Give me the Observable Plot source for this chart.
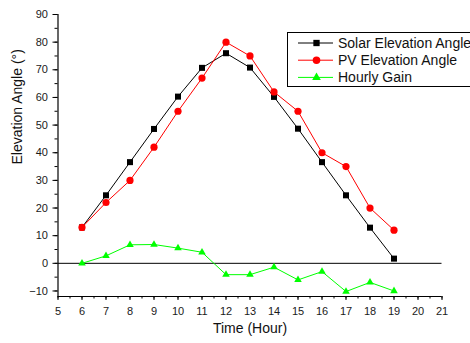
<!DOCTYPE html>
<html>
<head>
<meta charset="utf-8">
<script src="https://cdn.jsdelivr.net/npm/d3@7"></script>
<script src="https://cdn.jsdelivr.net/npm/@observablehq/plot@0.6"></script>
<style>
  html, body { margin: 0; padding: 0; background: #fff; overflow: hidden; }
  #wrap { position: relative; width: 470px; height: 343px; font-family: "Liberation Sans", Arial, sans-serif; }
  #legend { position: absolute; left: 287px; top: 32px; width: 220px; height: 55px; border: 1px solid #000; background: #fff; box-sizing: border-box; }
  #legend svg { display: block; }
</style>
</head>
<body>
<div id="wrap"></div>
<script>
const hours = [6, 7, 8, 9, 10, 11, 12, 13, 14, 15, 16, 17, 18, 19];
const solarElevation = [13, 24.6, 36.6, 48.6, 60.3, 70.7, 76, 70.8, 60.2, 48.7, 36.6, 24.6, 12.9, 1.7];
const pvElevation = [13, 22, 30, 42, 55, 67, 80, 75, 62, 55, 40, 35, 20, 12];
const hourlyGain = [0, 2.7, 6.7, 6.8, 5.5, 4, -4.1, -4.1, -1.4, -6, -3, -10.2, -6.9, -10];
const seriesNames = ["Solar Elevation Angle", "PV Elevation Angle", "Hourly Gain"];
const xTicks = d3.range(5, 22, 1);
const yTicks = d3.range(-10, 91, 10);
const xLabel = "Time (Hour)";
const yLabel = "Elevation Angle (°)";

const colors = ["#000000", "#ff0000", "#00ff00"];
const symbols = ["square", "circle", "triangle"];
const radii = [3.4, 3.6, 2.8];

const rows = (vals) => hours.map((h, i) => ({hour: h, value: vals[i]}));
const series = [solarElevation, pvElevation, hourlyGain].map(rows);

const marks = [
  Plot.ruleY([0], {stroke: "#000", strokeWidth: 1}),
  Plot.ruleX([5], {stroke: "#000", strokeWidth: 1.2}),
  Plot.ruleY([-12], {stroke: "#000", strokeWidth: 1.2}),
  Plot.axisY({ticks: d3.range(-10, 91, 5), tickSize: 3, tickFormat: () => "", stroke: "#000", label: null}),
  Plot.axisY({ticks: yTicks, tickSize: 5, tickPadding: 5, fontSize: 11, fill: "#1a1a1a", stroke: "#000", label: null}),
  Plot.axisX({ticks: d3.range(5, 21.01, 0.5), tickSize: 2.5, tickFormat: () => "", stroke: "#000", label: null}),
  Plot.axisX({ticks: xTicks, tickSize: 4, tickPadding: 7, fontSize: 11, fill: "#1a1a1a", stroke: "#000", label: null}),
  Plot.text([xLabel], {frameAnchor: "bottom", dy: 36, fontSize: 14, fill: "#111"}),
  Plot.text([yLabel], {frameAnchor: "left", rotate: -90, dx: -40, dy: 9, fontSize: 14, fill: "#111"})
];
series.forEach((data, i) => {
  marks.push(Plot.line(data, {x: "hour", y: "value", stroke: colors[i], strokeWidth: 1}));
  marks.push(Plot.dot(data, {x: "hour", y: "value", symbol: () => symbols[i], fill: colors[i], stroke: "none", r: radii[i]}));
});

const chart = Plot.plot({
  width: 470,
  height: 343,
  marginLeft: 57.5,
  marginRight: 28.5,
  marginTop: 14,
  marginBottom: 47,
  style: {fontFamily: "'Liberation Sans', Arial, sans-serif", background: "#fff", overflow: "visible"},
  x: {domain: [5, 21], axis: null},
  y: {domain: [-12, 90], axis: null},
  symbol: {type: "identity"},
  marks
});
const wrap = document.getElementById("wrap");
wrap.appendChild(chart);

// Legend
const legend = document.createElement("div");
legend.id = "legend";
const ns = "http://www.w3.org/2000/svg";
const svg = document.createElementNS(ns, "svg");
svg.setAttribute("width", 220);
svg.setAttribute("height", 55);
seriesNames.forEach((name, i) => {
  const cy = 10 + i * 17.2;
  const line = document.createElementNS(ns, "line");
  line.setAttribute("x1", 10); line.setAttribute("x2", 45);
  line.setAttribute("y1", cy); line.setAttribute("y2", cy);
  line.setAttribute("stroke", colors[i]); line.setAttribute("stroke-width", 1);
  svg.appendChild(line);
  const sym = d3.symbol(i === 0 ? d3.symbolSquare : i === 1 ? d3.symbolCircle : d3.symbolTriangle, Math.PI * radii[i] * radii[i] * (i === 2 ? 1.3 : 1.1))();
  const p = document.createElementNS(ns, "path");
  p.setAttribute("d", sym);
  p.setAttribute("transform", `translate(28.5,${cy})`);
  p.setAttribute("fill", colors[i]);
  svg.appendChild(p);
  const t = document.createElementNS(ns, "text");
  t.setAttribute("x", 50); t.setAttribute("y", cy);
  t.setAttribute("dy", "0.35em");
  t.setAttribute("font-size", 14);
  t.setAttribute("font-family", "'Liberation Sans', Arial, sans-serif");
  t.setAttribute("fill", "#111");
  t.textContent = name;
  svg.appendChild(t);
});
legend.appendChild(svg);
wrap.appendChild(legend);
</script>
</body>
</html>
